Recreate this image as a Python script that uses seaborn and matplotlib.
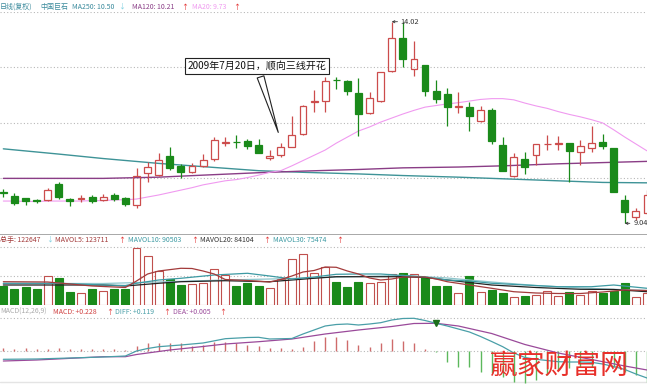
import numpy as np
import matplotlib
matplotlib.use('Agg')
import matplotlib.pyplot as plt
import seaborn as sns

sns.set_theme(style='white')
plt.rcParams['font.family'] = ['Noto Sans CJK SC', 'DejaVu Sans']
plt.rcParams['axes.unicode_minus'] = False

# 日K线 (复权) - 从图上读取
opens = [9.81, 9.71, 9.66, 9.62, 9.61, 10.00, 9.63, 9.63, 9.69, 9.61,
         9.73, 9.66, 9.49, 10.28, 10.23, 10.70, 10.46, 10.31, 10.46, 10.62,
         11.02, 11.06, 11.07, 10.97, 10.66, 10.73, 10.93, 11.25, 12.03, 12.07,
         12.59, 12.56, 12.27, 11.76, 12.05, 12.81, 13.61, 12.84, 12.94, 12.31,
         12.24, 11.91, 11.92, 11.56, 11.83, 10.97, 10.20, 10.64, 10.73, 10.99,
         11.01, 11.02, 10.79, 10.91, 11.06, 10.89, 9.62, 9.20, 9.29]
closes = [9.80, 9.55, 9.58, 9.59, 9.86, 9.70, 9.58, 9.67, 9.60, 9.70,
          9.64, 9.51, 10.20, 10.42, 10.60, 10.41, 10.30, 10.46, 10.60, 11.09,
          11.06, 11.05, 10.96, 10.78, 10.70, 10.93, 11.21, 11.95, 12.06, 12.56,
          12.57, 12.31, 11.75, 12.13, 12.78, 13.61, 13.09, 13.09, 12.31, 12.11,
          11.92, 11.93, 11.70, 11.83, 11.07, 10.34, 10.68, 10.42, 10.99, 11.00,
          11.02, 10.83, 10.95, 11.02, 10.95, 9.82, 9.31, 9.35, 9.74]
highs = [9.88, 9.78, 9.67, 9.64, 9.90, 10.05, 9.67, 9.73, 9.74, 9.76,
         9.78, 9.70, 10.41, 10.55, 10.77, 10.93, 10.51, 10.53, 10.74, 11.17,
         11.17, 11.23, 11.12, 11.12, 10.84, 11.03, 11.70, 11.96, 12.33, 12.65,
         12.66, 12.57, 12.63, 12.29, 12.79, 14.02, 14.01, 13.55, 12.95, 12.57,
         12.38, 12.28, 12.04, 11.95, 11.90, 11.17, 10.77, 10.80, 11.00, 11.23,
         11.20, 11.03, 11.09, 11.44, 11.25, 10.90, 9.73, 9.42, 9.86]
lows = [9.70, 9.50, 9.49, 9.53, 9.59, 9.64, 9.48, 9.57, 9.55, 9.60,
        9.60, 9.47, 9.41, 10.07, 10.21, 10.36, 10.16, 10.28, 10.43, 10.57,
        10.95, 10.91, 10.87, 10.77, 10.60, 10.69, 10.92, 11.23, 11.79, 11.80,
        12.37, 12.20, 11.20, 11.75, 12.04, 12.79, 12.91, 12.67, 12.19, 12.02,
        11.44, 11.76, 11.33, 11.55, 10.99, 10.33, 10.19, 10.27, 10.48, 10.85,
        10.86, 10.07, 10.48, 10.79, 10.87, 9.81, 9.04, 9.13, 9.27]

# 成交量 (手)
volumes = [53200, 44800, 49500, 44800, 81200, 74800, 36400, 32800, 44000, 40000,
           44000, 44000, 160400, 138000, 95200, 72000, 56000, 58000, 60800, 100800,
           84000, 53200, 62400, 53200, 46800, 72800, 128800, 142000, 90400, 105600,
           65200, 51200, 63600, 60800, 65200, 86800, 90400, 86800, 79200, 53200,
           53200, 32800, 81200, 35600, 42000, 32800, 23200, 26000, 28000, 39200,
           25200, 37200, 28000, 39200, 32800, 39200, 62400, 21600, 32800]

# 均线
ma20 = [9.59, 9.59, 9.58, 9.58, 9.59, 9.59, 9.59, 9.59, 9.60, 9.60,
        9.62, 9.62, 9.64, 9.69, 9.74, 9.80, 9.86, 9.92, 9.99, 10.04,
        10.09, 10.12, 10.17, 10.23, 10.30, 10.34, 10.46, 10.59, 10.72, 10.85,
        11.02, 11.17, 11.32, 11.42, 11.54, 11.64, 11.74, 11.83, 11.91, 11.95,
        11.99, 12.02, 12.06, 12.10, 12.12, 12.12, 12.09, 12.01, 11.94, 11.88,
        11.80, 11.73, 11.67, 11.60, 11.52, 11.35, 11.17, 11.00, 10.83]
ma250_idx = [0, 5, 9, 14, 18, 23, 27, 32, 36, 41, 45, 50, 54, 58]
ma250 = [10.88, 10.75, 10.64, 10.52, 10.44, 10.34, 10.30, 10.26, 10.22, 10.18, 10.14, 10.09, 10.05, 10.04]
ma120_idx = [0, 9, 14, 18, 23, 27, 32, 36, 41, 45, 50, 54, 58]
ma120 = [10.15, 10.15, 10.18, 10.23, 10.29, 10.33, 10.37, 10.41, 10.43, 10.46, 10.51, 10.54, 10.57]

# 成交量均线
mavol5_idx = [0, 4, 8, 11, 12, 13, 14, 16, 17, 18, 19, 20, 22, 24, 25, 26, 27, 28, 29, 30,
              31, 32, 33, 34, 35, 36, 38, 39, 40, 42, 44, 46, 48, 50, 52, 54, 56, 58]
mavol5 = [65200, 64400, 53200, 49000, 67200, 86800, 95200, 102800, 102200, 95200,
          86800, 71400, 68600, 64400, 71400, 81200, 92400, 96600, 106400, 105600,
          95200, 86800, 75600, 70000, 72800, 78400, 78400, 72800, 65200, 56000,
          46800, 37200, 33600, 32200, 32200, 36400, 42000, 40600]
mavol10_idx = [0, 5, 9, 11, 12, 14, 16, 19, 22, 24, 26, 28, 30, 32, 34, 36, 38, 40, 42, 44,
               47, 50, 53, 55, 58]
mavol10 = [60800, 60800, 56000, 54600, 60800, 70000, 74800, 84000, 88800, 81200,
           72800, 78400, 86000, 86800, 86800, 82600, 78400, 70000, 67200, 60800,
           56000, 51200, 51200, 56000, 46800]
mavol20_idx = [0, 9, 11, 14, 16, 20, 24, 26, 28, 30, 32, 36, 38, 40, 44, 48, 52, 55, 58]
mavol20 = [56000, 56000, 53200, 60800, 65200, 68000, 65200, 70000, 74800, 79200,
           79200, 79200, 77000, 70000, 56000, 49000, 44000, 43400, 37200]
mavol30_idx = [0, 9, 14, 20, 26, 30, 36, 40, 44, 48, 52, 58]
mavol30 = [60200, 60200, 64400, 70000, 74200, 78400, 82600, 75600, 64400, 54600, 47600, 40600]

# MACD(12,26,9)
diff_idx = [0, 3, 6, 9, 11, 12, 13, 14, 16, 18, 20, 22, 23, 24, 26, 27, 28, 29, 30, 31,
            32, 33, 34, 35, 36, 37, 38, 39, 40, 41, 42, 43, 44, 45, 46, 47, 48, 49, 50, 51,
            52, 53, 54, 55, 56, 57, 58]
diff = [-0.083, -0.080, -0.070, -0.060, -0.050, 0.000, 0.025, 0.043, 0.060, 0.080,
        0.123, 0.135, 0.137, 0.120, 0.125, 0.170, 0.210, 0.250, 0.265, 0.270,
        0.260, 0.270, 0.283, 0.310, 0.325, 0.327, 0.305, 0.277, 0.250, 0.220,
        0.190, 0.145, 0.095, 0.043, -0.020, -0.065, -0.083, -0.095, -0.107, -0.110,
        -0.110, -0.113, -0.130, -0.155, -0.185, -0.230, -0.270]
dea_idx = [0, 3, 9, 11, 12, 15, 18, 20, 23, 26, 29, 32, 35, 37, 39, 41, 44, 47, 50, 53, 56, 58]
dea = [-0.100, -0.090, -0.057, -0.057, -0.035, 0.010, 0.045, 0.070, 0.093, 0.120,
       0.170, 0.210, 0.245, 0.275, 0.277, 0.250, 0.175, 0.065, -0.020, -0.085,
       -0.150, -0.190]
macd = [0.03, 0.025, 0.03, 0.02, 0.025, 0.03, 0.02, 0.02, 0.025, 0.02,
        0.02, 0.015, 0.05, 0.083, 0.083, 0.077, 0.077, 0.05, 0.06, 0.093,
        0.093, 0.083, 0.06, 0.053, 0.027, 0.027, 0.017, 0.043, 0.10, 0.143,
        0.143, 0.11, 0.06, 0.043, 0.077, 0.117, 0.103, 0.077, 0.017, -0.01,
        -0.107, -0.157, -0.157, -0.207, -0.223, -0.257, -0.307, -0.323, -0.29, -0.24,
        -0.19, -0.173, -0.157, -0.157, -0.123, -0.157, -0.207, -0.24, -0.307]

RED = '#cc4c4c'
GREEN = '#1a8a1a'
TEAL = '#3e9397'
PURPLE = '#8a3d86'
PINK = '#f09af0'
DOT = dict(color='#b8b8b8', lw=0.8, ls=(0, (1, 2)))

W, H = 647, 384
fig = plt.figure(figsize=(W / 100, H / 100), dpi=100)
fig.patch.set_facecolor('white')


def px_axes(top, bottom):
    return fig.add_axes([0, 1 - bottom / H, 1, (bottom - top) / H])


ax = px_axes(12, 234)
axv = px_axes(234, 305)
axm = px_axes(305, 384)
for a in (ax, axv, axm):
    a.set_xlim(-0.3, 58.0)
    a.set_xticks([])
    a.set_yticks([])
    a.set_facecolor('none')
    for s in a.spines.values():
        s.set_visible(False)

days = np.arange(len(opens))
o, c, h, l = map(np.array, (opens, closes, highs, lows))
up = c >= o
col = np.where(up, RED, GREEN)

# ---- 主图 ----
ax.set_ylim(8.776, 14.26)
for lv in (14.25, 12.91, 11.53, 10.15):
    ax.axhline(lv, zorder=0, **DOT)
sns.lineplot(x=ma250_idx, y=ma250, ax=ax, color=TEAL, lw=1.0, zorder=1)
sns.lineplot(x=ma120_idx, y=ma120, ax=ax, color=PURPLE, lw=1.0, zorder=1)
sns.lineplot(x=days, y=ma20, ax=ax, color=PINK, lw=0.8, zorder=1)

body_lo = np.minimum(o, c)
body_hi = np.maximum(o, c)
ax.vlines(days, body_hi, h, colors=col, lw=0.9, zorder=3)
ax.vlines(days, l, body_lo, colors=col, lw=0.9, zorder=3)
ax.bar(days, np.maximum(body_hi - body_lo, 0.004), bottom=body_lo, width=0.62,
       color=[('none' if u else GREEN) for u in up], edgecolor=col, linewidth=0.9, zorder=3)

ax.annotate('2009年7月20日，顺向三线开花', xy=(24.85, 11.22), xytext=(22.86, 12.93),
            textcoords='data', ha='center', va='center', fontsize=7.2, color='#111111',
            bbox=dict(boxstyle='square,pad=0.3', fc='white', ec='#222222', lw=0.8),
            arrowprops=dict(arrowstyle='wedge,tail_width=0.7,shrink_factor=0.5',
                            fc='white', ec='#222222', lw=0.8), zorder=6)
ax.annotate('14.02', xy=(35, 14.02), xytext=(6.5, 0), textcoords='offset points',
            ha='left', va='center', fontsize=5.3, color='#333333',
            arrowprops=dict(arrowstyle='->', lw=0.6, color='#333333', mutation_scale=4,
                            shrinkA=0, shrinkB=0))
ax.annotate('9.04', xy=(56, 9.04), xytext=(6.0, 0), textcoords='offset points',
            ha='left', va='center', fontsize=5.3, color='#333333',
            arrowprops=dict(arrowstyle='->', lw=0.6, color='#333333', mutation_scale=4,
                            shrinkA=0, shrinkB=0))

# ---- 成交量 ----
axv.set_ylim(0, 198800)
axv.axhline(198800, color='#9a9a9a', lw=1.2, zorder=0)
for lv in (161560, 82040):
    axv.axhline(lv, zorder=0, **DOT)
vcol = np.where(up, '#c0504d', GREEN)
axv.bar(days, volumes, width=0.72, color=[('white' if u else GREEN) for u in up],
        edgecolor=vcol, linewidth=0.8, zorder=2)
sns.lineplot(x=mavol30_idx, y=mavol30, ax=axv, color='#8ec6cc', lw=0.9, zorder=4)
sns.lineplot(x=mavol20_idx, y=mavol20, ax=axv, color='#222222', lw=0.9, zorder=4)
sns.lineplot(x=mavol10_idx, y=mavol10, ax=axv, color='#3d9aa3', lw=0.9, zorder=4)
sns.lineplot(x=mavol5_idx, y=mavol5, ax=axv, color='#a33b3b', lw=0.9, zorder=4)

# ---- MACD ----
axm.set_ylim(-0.33, 0.46)
for lv in (0.327, 0.0):
    axm.axhline(lv, zorder=0, **DOT)
axm.axhline(-0.31, color='#e4e4e4', lw=1.0, zorder=0)
mv = np.array(macd)
axm.vlines(days, 0, mv, colors=np.where(mv >= 0, '#cf6b6b', '#5cb85c'), lw=1.0, zorder=2)
sns.lineplot(x=dea_idx, y=dea, ax=axm, color='#9a4a9a', lw=0.9, zorder=3)
sns.lineplot(x=diff_idx, y=diff, ax=axm, color='#4a9fa8', lw=0.9, zorder=3)
axm.plot([39], [0.277], marker='v', color='#1a6e1a', ms=4, zorder=5)

for a in (ax, axv, axm):
    a.set_xlim(-0.3, 58.0)
    a.set_xlabel('')
    a.set_ylabel('')
    leg = a.get_legend()
    if leg:
        leg.remove()


# ---- 标题文字 ----
def header(items, ypx, size=5.0):
    for xpx, txt, color in items:
        fig.text(xpx / W, 1 - ypx / H, txt, color=color, fontsize=size,
                 ha='left', va='center')


header([(0, '日线(复权)', '#3a8a9c'), (40, '中国巨石', '#3a8a9c'),
        (72, 'MA250: 10.50', '#3a8a9c'), (118, '↓', '#7fd0e0'),
        (132, 'MA120: 10.21', PURPLE), (181, '↑', '#e02020'),
        (192, 'MA20: 9.73', PINK), (233, '↑', '#e02020')], 7)
header([(0, '总手: 122647', '#a33b3b'), (46, '↓', '#7fd0e0'),
        (55, 'MAVOL5: 123711', '#a33b3b'), (118, '↑', '#e02020'),
        (128, 'MAVOL10: 90503', '#3d9aa3'), (191, '↑', '#e02020'),
        (200, 'MAVOL20: 84104', '#333333'), (263, '↑', '#e02020'),
        (273, 'MAVOL30: 75474', '#3d9aa3'), (336, '↑', '#e02020')], 240)
header([(0, 'MACD(12,26,9)', '#aaaaaa'), (53, 'MACD: +0.228', '#d04040'),
        (106, '↑', '#e02020'), (115, 'DIFF: +0.119', '#4a9fa8'),
        (163, '↑', '#e02020'), (173, 'DEA: +0.005', '#9a4a9a'),
        (219, '↑', '#e02020')], 312)

fig.text(490 / W, 1 - 366 / H, '赢家财富网', color='#e8302a', fontsize=20,
         ha='left', va='center')

fig.savefig('out.png', dpi=100)
